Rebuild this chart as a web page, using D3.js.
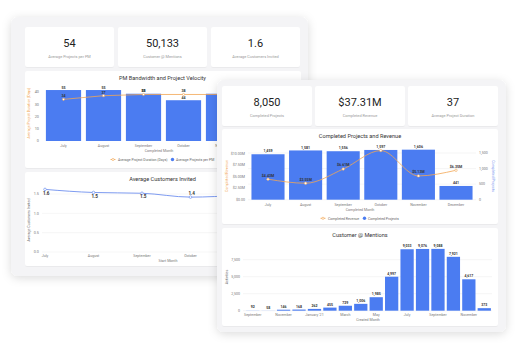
<!DOCTYPE html>
<html><head><meta charset="utf-8">
<script src="https://cdn.jsdelivr.net/npm/d3@7"></script>
<style>
body{margin:0;background:#fff;}
svg{display:block;font-family:Roboto,"Open Sans",sans-serif;}
</style>
</head><body>
<svg id="c" width="516" height="351"></svg>
<script>
// ---------- DATA ----------
const backKpiValues = ["54", "50,133", "1.6"];
const backKpiLabels = ["Average Projects per PM", "Customer @ Mentions", "Average Customers Invited"];
const frontKpiValues = ["8,050", "$37.31M", "37"];
const frontKpiLabels = ["Completed Projects", "Completed Revenue", "Average Project Duration"];

const pmMonths = ["July", "August", "September", "October", "November"];
const pmProjectsPerPM = [55, 55, 51, 44, 51];
const pmDurationDays = [34, 37, 38, 38, 38];
const pmDurationTicks = [0, 10, 20, 30, 40];

const invitedMonths = ["July", "August", "September", "October", "November"];
const invitedValues = [1.62, 1.54, 1.52, 1.42, 1.47];
const invitedTicks = [0, 0.5, 1.0, 1.5];

const compMonths = ["July", "August", "September", "October", "November", "December"];
const compProjects = [1459, 1581, 1556, 1597, 1606, 441];
const compRevenueM = [4.43, 3.55, 6.61, 10.6, 5.13, 6.35];
const revenueTicks = [0, 2.5, 5, 7.5, 10];
const projectTicks = [0, 500, 1000, 1500];

const mentionMonths = ["September", "October", "November", "December", "January '21", "February", "March", "April", "May", "June", "July", "August", "September", "October", "November", "December"];
const mentionValues = [92, 58, 146, 168, 262, 455, 729, 1006, 1985, 4997, 9033, 9076, 9088, 7921, 4617, 373];
const mentionTicks = [0, 2500, 5000, 7500];

// ---------- STYLE ----------
const BLUE = "#4b7cf1", ORANGE = "#f2a653", LINEBLUE = "#6f90ee";
const TXT = "#333", TICK = "#777";

const svg = d3.select("#c");
const defs = svg.append("defs");
const sh = defs.append("filter").attr("id", "sh").attr("x", "-20%").attr("y", "-20%").attr("width", "140%").attr("height", "140%");
sh.append("feDropShadow").attr("dx", 0).attr("dy", 2).attr("stdDeviation", 5).attr("flood-color", "#000").attr("flood-opacity", 0.14);
const cs = defs.append("filter").attr("id", "cs").attr("x", "-10%").attr("y", "-10%").attr("width", "120%").attr("height", "120%");
cs.append("feDropShadow").attr("dx", 0).attr("dy", 0.5).attr("stdDeviation", 0.7).attr("flood-color", "#000").attr("flood-opacity", 0.08);

function panel(g, x, y, w, h) {
  g.append("rect").attr("x", x).attr("y", y).attr("width", w).attr("height", h)
    .attr("rx", 7).attr("fill", "#f4f4f6").attr("filter", "url(#sh)");
}
function card(g, x, y, w, h) {
  g.append("rect").attr("x", x).attr("y", y).attr("width", w).attr("height", h)
    .attr("rx", 2).attr("fill", "#fff").attr("filter", "url(#cs)");
}
function text(g, x, y, s, size, fill, anchor = "middle", weight = 400) {
  return g.append("text").attr("x", x).attr("y", y).text(s)
    .attr("font-size", size).attr("fill", fill).attr("text-anchor", anchor).attr("font-weight", weight);
}
function kpis(g, xs, y, w, h, values, labels) {
  values.forEach((v, i) => {
    card(g, xs[i], y, w, h);
    text(g, xs[i] + w / 2, y + 19.5, v, 11, "#222");
    text(g, xs[i] + w / 2, y + 31, labels[i], 3.9, "#999");
  });
}
function rotText(g, x, y, s, size, fill, angle) {
  g.append("text").attr("transform", `translate(${x},${y}) rotate(${angle})`).text(s)
    .attr("font-size", size).attr("fill", fill).attr("text-anchor", "middle");
}

// ================= BACK DASHBOARD =================
const back = svg.append("g");
panel(back, 11, 17, 297, 259);
kpis(back, [25, 118, 211], 27, 89, 40, backKpiValues, backKpiLabels);

// --- PM Bandwidth and Project Velocity ---
card(back, 25, 71, 276, 97);
text(back, 162.5, 80, "PM Bandwidth and Project Velocity", 5.6, TXT);
{
  const x = d3.scaleBand().domain(pmMonths).range([43.5, 243.5]).paddingInner(0.12).paddingOuter(0.06);
  const yDur = d3.scaleLinear().domain([0, 45]).range([141, 85.9]);
  const yBar = d3.scaleLinear().domain([0, 60]).range([141, 85.4]);
  const g = back.append("g");
  pmDurationTicks.forEach(t => text(g, 39, yDur(t) + 1.3, d3.format("d")(t), 3.8, TICK, "end"));
  rotText(g, 30, 113, "Average Project Duration (Days)", 3.6, ORANGE, -90);
  g.selectAll(".b").data(pmMonths).join("rect")
    .attr("x", d => x(d)).attr("width", x.bandwidth())
    .attr("y", (d, i) => yBar(pmProjectsPerPM[i])).attr("height", (d, i) => 141 - yBar(pmProjectsPerPM[i]))
    .attr("fill", BLUE);
  pmMonths.forEach((m, i) => text(g, x(m) + x.bandwidth() / 2, yBar(pmProjectsPerPM[i]) - 1.5, pmProjectsPerPM[i], 3.6, TXT, "middle", 700));
  const line = d3.line().x((d, i) => x(pmMonths[i]) + x.bandwidth() / 2).y(d => yDur(d));
  g.append("path").attr("d", line(pmDurationDays)).attr("fill", "none").attr("stroke", ORANGE).attr("stroke-width", 0.8);
  pmDurationDays.forEach((v, i) => {
    const cx = x(pmMonths[i]) + x.bandwidth() / 2;
    g.append("circle").attr("cx", cx).attr("cy", yDur(v)).attr("r", 1.1).attr("fill", "#fff").attr("stroke", ORANGE).attr("stroke-width", 0.6);
    if (i < pmMonths.length - 1) text(g, cx, yDur(v) - 2, v, 3.6, TXT, "middle", 700);
  });
  pmMonths.forEach(m => text(g, x(m) + x.bandwidth() / 2, 146.5, m, 3.6, TICK));
  text(g, 159, 151.5, "Completed Month", 3.6, TICK);
  // legend
  g.append("line").attr("x1", 110.5).attr("x2", 115.5).attr("y1", 159.5).attr("y2", 159.5).attr("stroke", ORANGE).attr("stroke-width", 0.8);
  g.append("circle").attr("cx", 113).attr("cy", 159.5).attr("r", 1.1).attr("fill", "#fff").attr("stroke", ORANGE).attr("stroke-width", 0.6);
  text(g, 118, 160.8, "Average Project Duration (Days)", 3.5, "#666", "start");
  g.append("circle").attr("cx", 172.5).attr("cy", 159.5).attr("r", 1.7).attr("fill", BLUE);
  text(g, 176, 160.8, "Average Projects per PM", 3.5, "#666", "start");
}

// --- Average Customers Invited ---
card(back, 25, 172, 276, 94);
text(back, 162.5, 180.5, "Average Customers Invited", 5.6, TXT);
{
  const x = d3.scalePoint().domain(invitedMonths).range([45, 239]);
  const y = d3.scaleLinear().domain([0, 1.7]).range([252, 186.3]);
  const g = back.append("g");
  invitedTicks.forEach(t => {
    g.append("line").attr("x1", 42).attr("x2", 300).attr("y1", y(t)).attr("y2", y(t)).attr("stroke", "#ececec").attr("stroke-width", 0.5);
    text(g, 39, y(t) + 1.3, d3.format(".1f")(t), 3.8, TICK, "end");
  });
  rotText(g, 30, 220, "Average Customers Invited", 3.6, "#666", -90);
  const line = d3.line().x((d, i) => x(invitedMonths[i])).y(d => y(d)).curve(d3.curveMonotoneX);
  g.append("path").attr("d", line(invitedValues)).attr("fill", "none").attr("stroke", LINEBLUE).attr("stroke-width", 0.9);
  invitedValues.forEach((v, i) => {
    const cx = x(invitedMonths[i]);
    g.append("circle").attr("cx", cx).attr("cy", y(v)).attr("r", 1.3).attr("fill", "#fff").attr("stroke", LINEBLUE).attr("stroke-width", 0.7);
    const next = invitedValues[i + 1];
    if (next === undefined) return; // last point sits under the front dashboard
    const below = v >= next;
    text(g, cx + 1.2, below ? y(v) + 5.2 : y(v) - 2.5, d3.format(".1f")(v), 4.6, "#333", "middle", 700);
  });
  invitedMonths.forEach(m => text(g, x(m), 256.5, m, 3.6, TICK));
  text(g, 168, 261.5, "Start Month", 3.6, TICK);
}

// ================= FRONT DASHBOARD =================
const front = svg.append("g");
panel(front, 217, 80, 289, 252);
kpis(front, [222, 315, 408], 86, 90, 40, frontKpiValues, frontKpiLabels);

// --- Completed Projects and Revenue ---
card(front, 222, 129, 276, 95);
text(front, 360, 137.5, "Completed Projects and Revenue", 5.6, TXT);
{
  const x = d3.scaleBand().domain(compMonths).range([249.2, 474.8]).paddingInner(0.12).paddingOuter(0.06);
  const yRev = d3.scaleLinear().domain([0, 11]).range([199.7, 148.7]);
  const yPrj = d3.scaleLinear().domain([0, 1650]).range([199.7, 148.3]);
  const g = front.append("g");
  projectTicks.forEach(t => {
    g.append("line").attr("x1", 248).attr("x2", 476).attr("y1", yPrj(t)).attr("y2", yPrj(t)).attr("stroke", "#ececec").attr("stroke-width", 0.5);
    text(g, 479, yPrj(t) + 1.3, d3.format(",")(t), 3.6, TICK, "start");
  });
  revenueTicks.forEach(t => text(g, 245, yRev(t) + 1.3, t === 0 ? "$0.00" : "$" + d3.format(".2f")(t) + "M", 3.6, TICK, "end"));
  rotText(g, 228, 176, "Completed Revenue", 3.6, ORANGE, -90);
  rotText(g, 492, 176, "Completed Projects", 3.6, LINEBLUE, 90);
  g.selectAll(".b").data(compMonths).join("rect")
    .attr("x", d => x(d)).attr("width", x.bandwidth())
    .attr("y", (d, i) => yPrj(compProjects[i])).attr("height", (d, i) => 199.7 - yPrj(compProjects[i]))
    .attr("fill", BLUE);
  compMonths.forEach((m, i) => text(g, x(m) + x.bandwidth() / 2, yPrj(compProjects[i]) - 1.8, d3.format(",")(compProjects[i]), 3.6, TXT, "middle", 700));
  const line = d3.line().x((d, i) => x(compMonths[i]) + x.bandwidth() / 2).y(d => yRev(d)).curve(d3.curveMonotoneX);
  g.append("path").attr("d", line(compRevenueM)).attr("fill", "none").attr("stroke", ORANGE).attr("stroke-width", 0.8);
  compRevenueM.forEach((v, i) => {
    const cx = x(compMonths[i]) + x.bandwidth() / 2;
    g.append("circle").attr("cx", cx).attr("cy", yRev(v)).attr("r", 1.2).attr("fill", "#fff").attr("stroke", ORANGE).attr("stroke-width", 0.6);
    if (Math.abs(yRev(v) - yPrj(compProjects[i])) > 4)
      text(g, cx, yRev(v) - 2.6, "$" + d3.format(".2f")(v) + "M", 3.6, TXT, "middle", 700);
  });
  compMonths.forEach(m => text(g, x(m) + x.bandwidth() / 2, 205.8, m, 3.6, TICK));
  text(g, 360, 210.8, "Completed Month", 3.6, TICK);
  g.append("line").attr("x1", 320.5).attr("x2", 325.5).attr("y1", 218.3).attr("y2", 218.3).attr("stroke", ORANGE).attr("stroke-width", 0.8);
  g.append("circle").attr("cx", 323).attr("cy", 218.3).attr("r", 1.1).attr("fill", "#fff").attr("stroke", ORANGE).attr("stroke-width", 0.6);
  text(g, 328, 219.6, "Completed Revenue", 3.5, "#666", "start");
  g.append("circle").attr("cx", 364.5).attr("cy", 218.3).attr("r", 1.7).attr("fill", BLUE);
  text(g, 368, 219.6, "Completed Projects", 3.5, "#666", "start");
}

// --- Customer @ Mentions ---
card(front, 222, 228, 276, 98);
text(front, 360, 237, "Customer @ Mentions", 5.6, TXT);
{
  const idx = mentionValues.map((d, i) => i);
  const x = d3.scaleBand().domain(idx).range([245, 492]).paddingInner(0.14).paddingOuter(0.07);
  const y = d3.scaleLinear().domain([0, 9600]).range([310.7, 245.4]);
  const g = front.append("g");
  mentionTicks.forEach(t => {
    g.append("line").attr("x1", 243).attr("x2", 492).attr("y1", y(t)).attr("y2", y(t)).attr("stroke", "#ececec").attr("stroke-width", 0.5);
    text(g, 240, y(t) + 1.3, d3.format(",")(t), 3.6, TICK, "end");
  });
  rotText(g, 227.5, 277, "Activities", 3.6, "#666", -90);
  g.selectAll(".b").data(idx).join("rect")
    .attr("x", d => x(d)).attr("width", x.bandwidth())
    .attr("y", d => y(mentionValues[d])).attr("height", d => 310.7 - y(mentionValues[d]))
    .attr("fill", d => d < 2 ? "#d3e0fc" : BLUE);
  idx.forEach(i => text(g, x(i) + x.bandwidth() / 2, y(mentionValues[i]) - 1.8, d3.format(",")(mentionValues[i]), 3.5, TXT, "middle", 700));
  idx.filter(i => i % 2 === 0).forEach(i => text(g, x(i) + x.bandwidth() / 2, 315.5, mentionMonths[i], 3.6, TICK));
  text(g, 368, 320.8, "Created Month", 3.6, TICK);
}
</script>
</body></html>
